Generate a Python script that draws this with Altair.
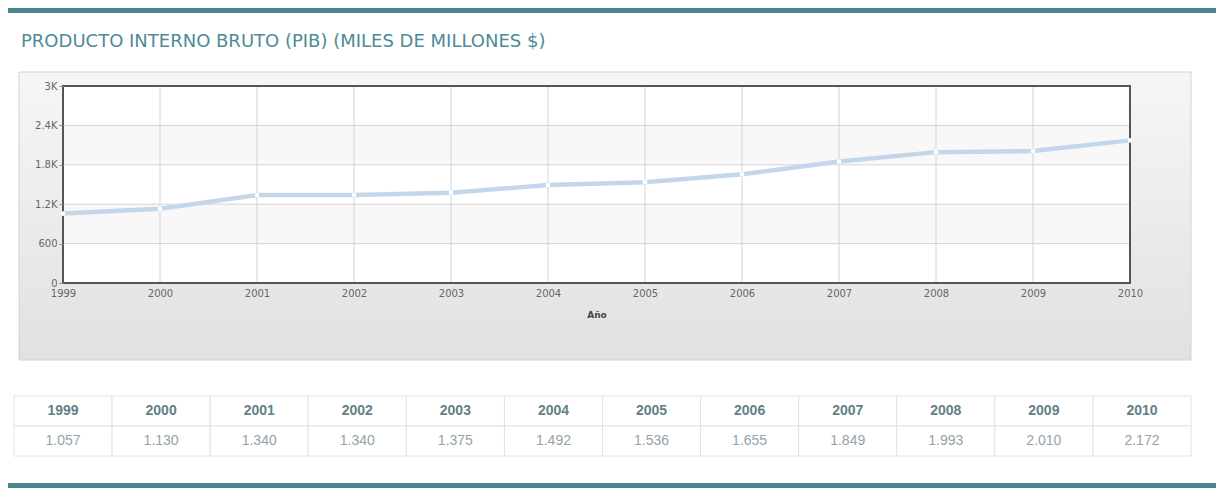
import altair as alt
import pandas as pd

# ---------------- data ----------------
years = [1999, 2000, 2001, 2002, 2003, 2004, 2005, 2006, 2007, 2008, 2009, 2010]
pib = [1057, 1130, 1340, 1340, 1375, 1492, 1536, 1655, 1849, 1993, 2010, 2172]
y_ticks = [0, 600, 1200, 1800, 2400, 3000]
title_text = "PRODUCTO INTERNO BRUTO (PIB) (MILES DE MILLONES $)"
x_title = "Año"

W, H = 1067, 197

df = pd.DataFrame({"year": years, "pib": pib})
ticks_df = pd.DataFrame({"t": y_ticks})
years_df = pd.DataFrame({"year": years})
bands_df = pd.DataFrame({"lo": y_ticks[1:-1:2], "hi": y_ticks[2::2]})
one = pd.DataFrame({"k": [0]})

rows = []
for yr, v in zip(years, pib):
    rows.append({"year": str(yr), "row": "h", "label": str(yr)})
    rows.append({"year": str(yr), "row": "v", "label": f"{v:,}".replace(",", ".")})
table_df = pd.DataFrame(rows)

# ---------------- scales / axes ----------------
xs = alt.Scale(domain=[1999, 2010], nice=False, zero=False)
ys = alt.Scale(domain=[0, 3000], nice=False)

xaxis = alt.Axis(values=years, format="d", grid=False, domain=False, ticks=False,
                 labelFontSize=10, labelColor="#666666", labelFont="DejaVu Sans",
                 labelPadding=5, title=x_title, titleFontSize=9, titleFontWeight="bold",
                 titleColor="#444444", titleFont="DejaVu Sans", titlePadding=12,
                 zindex=1, labelFlush=False)
yaxis = alt.Axis(values=y_ticks, grid=False, domain=False, ticks=True, tickSize=4,
                 tickColor="#888888", labelFontSize=10, labelColor="#666666",
                 labelFont="DejaVu Sans", labelPadding=2, title=None, zindex=1,
                 labelExpr="datum.value >= 1000 ? replace(format(datum.value, '~s'), 'k', 'K') : format(datum.value, 'd')")

gradient = alt.LinearGradient(
    gradient="linear",
    stops=[alt.GradientStop(color="#f6f6f6", offset=0),
           alt.GradientStop(color="#e1e1e1", offset=1)],
    x1=0, x2=0, y1=0, y2=1,
)

# ---------------- decoration ----------------
panel = alt.Chart(one).mark_rect(fill=gradient, stroke="#d2d2d2", strokeWidth=1).encode(
    x=alt.value(-44), x2=alt.value(1128), y=alt.value(-14), y2=alt.value(274))
top_bar = alt.Chart(one).mark_rect(color="#4a8590").encode(
    x=alt.value(-55), x2=alt.value(1153), y=alt.value(-78), y2=alt.value(-73))
bottom_bar = alt.Chart(one).mark_rect(color="#4a8590").encode(
    x=alt.value(-55), x2=alt.value(1153), y=alt.value(397), y2=alt.value(402))
title = alt.Chart(one).mark_text(text=title_text, align="left", baseline="alphabetic",
                                 font="DejaVu Sans", fontSize=18, color="#4f8a96").encode(
    x=alt.value(-42), y=alt.value(-39))
plot_bg = alt.Chart(one).mark_rect(fill="white").encode(
    x=alt.value(0), x2=alt.value(W), y=alt.value(0), y2=alt.value(H))

bands = alt.Chart(bands_df).mark_rect(fill="#f8f8f8").encode(
    x=alt.value(0), x2=alt.value(W),
    y=alt.Y("lo:Q", scale=ys, axis=yaxis), y2="hi:Q")
grid_y = alt.Chart(ticks_df).mark_rule(color="#d4d4d4", strokeWidth=1).encode(
    y=alt.Y("t:Q", scale=ys, axis=yaxis))
grid_x = alt.Chart(years_df).mark_rule(color="#d4d4d4", strokeWidth=1).encode(
    x=alt.X("year:Q", scale=xs, axis=xaxis))
frame = alt.Chart(one).mark_rect(fillOpacity=0, stroke="#555555", strokeWidth=2).encode(
    x=alt.value(0), x2=alt.value(W), y=alt.value(0), y2=alt.value(H))

line = alt.Chart(df).mark_line(color="#c3d7ea", strokeWidth=4.5).encode(
    x=alt.X("year:Q", scale=xs, axis=xaxis),
    y=alt.Y("pib:Q", scale=ys, axis=yaxis))
points = alt.Chart(df).mark_point(filled=True, color="white", size=22, opacity=1).encode(
    x=alt.X("year:Q", scale=xs, axis=xaxis),
    y=alt.Y("pib:Q", scale=ys, axis=yaxis))

main = alt.layer(panel, top_bar, bottom_bar, title, plot_bg, bands, grid_y, grid_x,
                 frame, line, points)

# ---------------- table ----------------
xt = alt.X("year:O", scale=alt.Scale(range=[-49, 1128], paddingInner=0, paddingOuter=0),
           axis=None)
yt = alt.Y("row:O", scale=alt.Scale(domain=["h", "v"], range=[310, 370],
                                    paddingInner=0, paddingOuter=0), axis=None)
cells = alt.Chart(table_df).mark_rect(fill="white", stroke="#e2e2e2", strokeWidth=1).encode(
    x=xt, y=yt)
head_txt = alt.Chart(table_df).transform_filter("datum.row == 'h'").mark_text(
    font="Liberation Sans", fontSize=14, fontWeight="bold", color="#647f87").encode(
    x=xt, y=yt, text="label:N")
val_txt = alt.Chart(table_df).transform_filter("datum.row == 'v'").mark_text(
    font="Liberation Sans", fontSize=14, color="#93a3a8").encode(
    x=xt, y=yt, text="label:N")
table = alt.layer(cells, head_txt, val_txt)

chart = alt.layer(main, table).resolve_scale(
    x="independent", y="independent"
).resolve_axis(x="independent", y="independent").properties(
    width=W, height=H, padding=0, background="white"
).configure_view(strokeWidth=0)

chart.save("out.html", embed_options={"renderer": "svg", "actions": False})
